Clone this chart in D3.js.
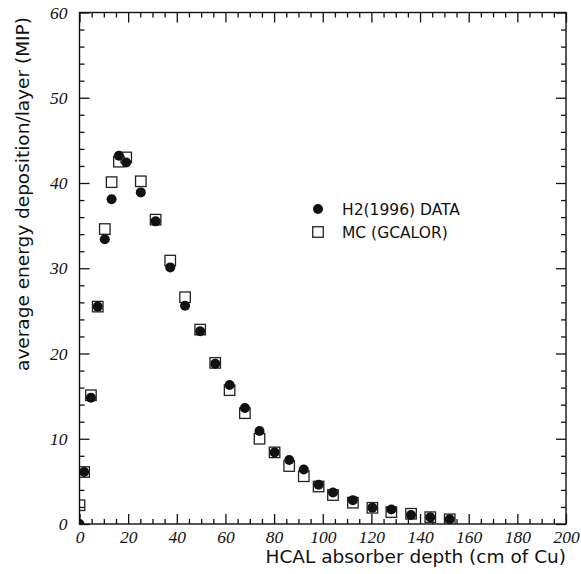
<!DOCTYPE html>
<html>
<head>
<meta charset="utf-8">
<script src="https://cdn.jsdelivr.net/npm/d3@7"></script>
<style>
  body { margin: 0; background: #fff; }
  svg { display: block; }
  .domain { display: none; }
  .tick line { stroke: #111; stroke-width: 1.3; }
  .ticklab text { font-family: "Liberation Serif", serif; font-style: italic; font-size: 17.5px; fill: #111; }
  .title { font-family: "DejaVu Sans", sans-serif; font-size: 18.5px; fill: #111; }
  .legend { font-family: "DejaVu Sans", sans-serif; font-size: 15.5px; fill: #111; }
</style>
</head>
<body>
<svg id="chart" width="581" height="574"></svg>
<script>
// layer depth (cm of Cu)
const depth = [0, 1.9, 4.7, 7.5, 10.4, 13.2, 16.2, 19.2, 25.2, 31.3, 37.3, 43.4, 49.6, 55.8,
               61.7, 68, 74, 80.2, 86.2, 92.2, 98.3, 104.2, 112.4, 120.4, 128.2, 136.3, 144.2, 152.2];
// H2(1996) DATA
const dataVals = [0, 6.1, 14.8, 25.5, 33.4, 38.1, 43.2, 42.4, 38.9, 35.5, 30.1, 25.6, 22.6, 18.8,
                  16.3, 13.6, 10.9, 8.4, 7.5, 6.4, 4.6, 3.7, 2.8, 1.9, 1.7, 1.05, 0.8, 0.55];
// MC (GCALOR)
const mcVals = [2.2, 6.1, 15.1, 25.5, 34.6, 40.1, 42.5, 43.0, 40.2, 35.7, 30.9, 26.6, 22.8, 18.9,
                15.7, 13.0, 10.0, 8.4, 6.8, 5.6, 4.4, 3.4, 2.5, 1.9, 1.4, 1.2, 0.8, 0.55];

const xMajor = [0, 20, 40, 60, 80, 100, 120, 140, 160, 180, 200];
const yMajor = [0, 10, 20, 30, 40, 50, 60];
const legendNames = ["H2(1996) DATA", "MC (GCALOR)"];

const svg = d3.select("#chart");
const frame = {left: 79.5, right: 566, top: 12.5, bottom: 524};

const x = d3.scaleLinear().domain([0, 200]).range([frame.left, frame.right]);
const y = d3.scaleLinear().domain([0, 60]).range([frame.bottom, frame.top]);

svg.append("defs").append("clipPath").attr("id", "clip")
   .append("rect").attr("x", frame.left).attr("y", frame.top)
   .attr("width", frame.right - frame.left).attr("height", frame.bottom - frame.top);

// ticks, all pointing inward
const xMinor = d3.range(0, 201, 5).filter(v => v % 20 !== 0);
const yMinor = d3.range(0, 61, 2).filter(v => v % 10 !== 0);

function tickAxis(axisFn, scale, values, size, transform) {
    svg.append("g").attr("transform", transform)
       .call(axisFn(scale).tickValues(values).tickSize(size).tickFormat(""));
}
tickAxis(d3.axisBottom, x, xMajor, -10, `translate(0,${frame.bottom})`);
tickAxis(d3.axisBottom, x, xMinor, -5, `translate(0,${frame.bottom})`);
tickAxis(d3.axisTop, x, xMajor, -10, `translate(0,${frame.top})`);
tickAxis(d3.axisTop, x, xMinor, -5, `translate(0,${frame.top})`);
tickAxis(d3.axisLeft, y, yMajor, -10, `translate(${frame.left},0)`);
tickAxis(d3.axisLeft, y, yMinor, -5, `translate(${frame.left},0)`);
tickAxis(d3.axisRight, y, yMajor, -10, `translate(${frame.right},0)`);
tickAxis(d3.axisRight, y, yMinor, -5, `translate(${frame.right},0)`);

// tick labels
svg.append("g").attr("class", "ticklab").attr("transform", `translate(0,${frame.bottom})`)
   .call(d3.axisBottom(x).tickValues(xMajor).tickSize(0).tickPadding(7))
   .selectAll("line").remove();
svg.append("g").attr("class", "ticklab").attr("transform", `translate(${frame.left},0)`)
   .call(d3.axisLeft(y).tickValues(yMajor).tickSize(0).tickPadding(12))
   .selectAll("line").remove();
svg.selectAll(".ticklab").attr("font-family", null).attr("font-size", null);

// frame
svg.append("rect")
   .attr("x", frame.left).attr("y", frame.top)
   .attr("width", frame.right - frame.left).attr("height", frame.bottom - frame.top)
   .attr("fill", "none").attr("stroke", "#111").attr("stroke-width", 1.4);

// points
const plot = svg.append("g").attr("clip-path", "url(#clip)");
const sq = 10.5, rad = 5;

plot.selectAll("rect.mc").data(depth).join("rect")
    .attr("class", "mc")
    .attr("x", d => x(d) - sq / 2)
    .attr("y", (d, i) => y(mcVals[i]) - sq / 2)
    .attr("width", sq).attr("height", sq)
    .attr("fill", "none").attr("stroke", "#222").attr("stroke-width", 1.3);

plot.selectAll("circle.dat").data(depth).join("circle")
    .attr("class", "dat")
    .attr("cx", d => x(d))
    .attr("cy", (d, i) => y(dataVals[i]))
    .attr("r", rad)
    .attr("fill", "#111");

// legend
const lg = svg.append("g");
lg.append("circle").attr("cx", 318).attr("cy", 209).attr("r", rad).attr("fill", "#111");
lg.append("rect").attr("x", 318 - sq / 2).attr("y", 232 - sq / 2)
  .attr("width", sq).attr("height", sq)
  .attr("fill", "none").attr("stroke", "#222").attr("stroke-width", 1.3);
lg.selectAll("text").data(legendNames).join("text")
  .attr("class", "legend")
  .attr("x", 342)
  .attr("y", (d, i) => 215 + i * 23)
  .text(d => d);

// axis titles
svg.append("text").attr("class", "title")
   .attr("x", 566).attr("y", 563)
   .attr("text-anchor", "end")
   .text("HCAL absorber depth (cm of Cu)");

svg.append("text").attr("class", "title")
   .attr("transform", "translate(29,194) rotate(-90)")
   .attr("text-anchor", "middle")
   .text("average energy deposition/layer (MIP)");
</script>
</body>
</html>
